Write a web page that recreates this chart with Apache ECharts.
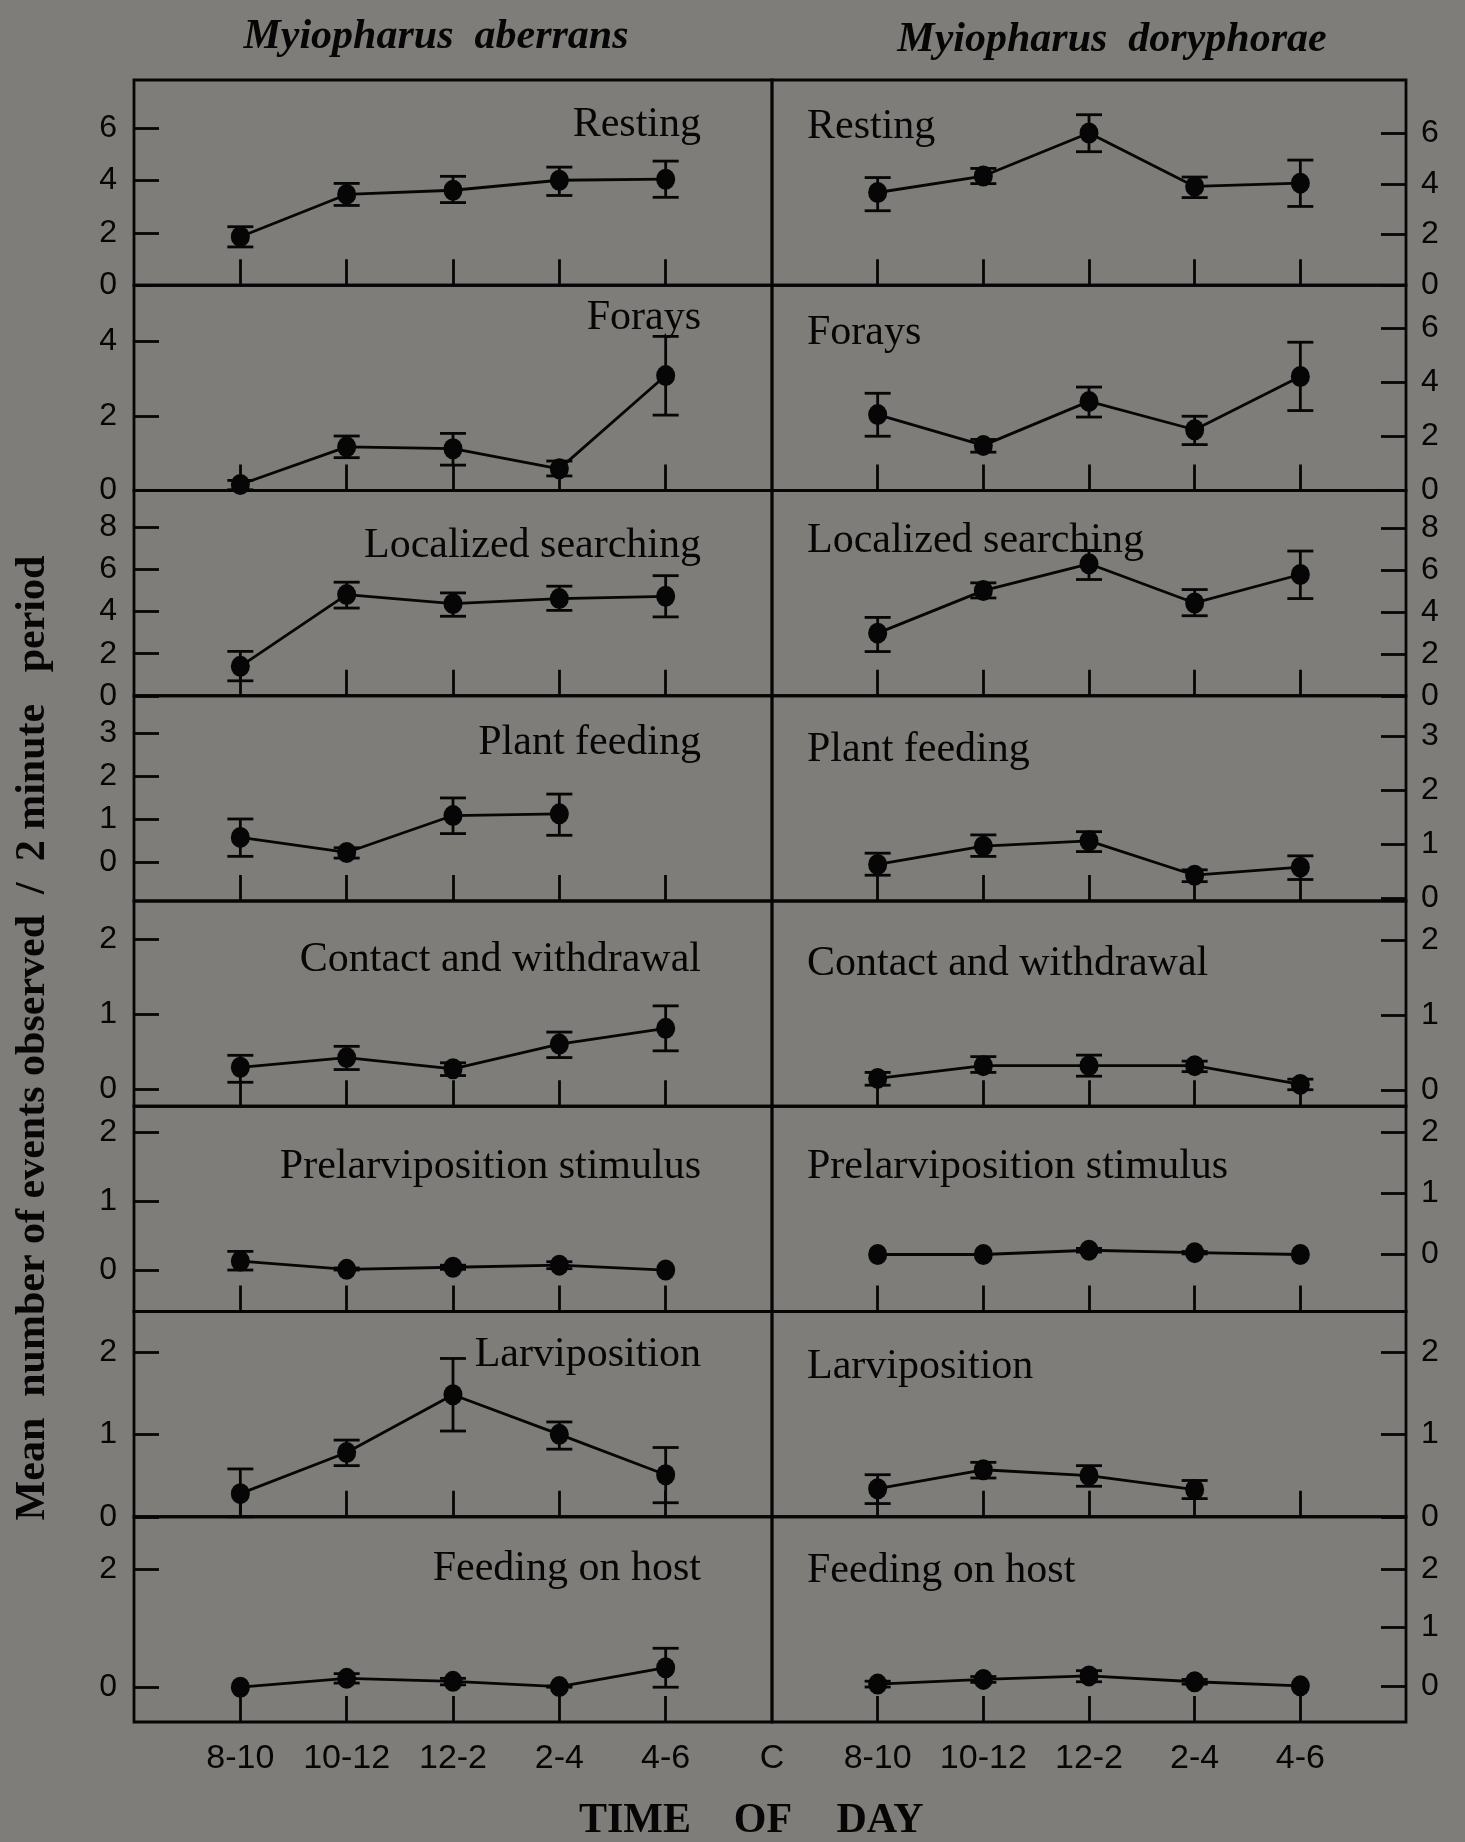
<!DOCTYPE html>
<html>
<head>
<meta charset="utf-8">
<script src="https://cdn.jsdelivr.net/npm/echarts@6/dist/echarts.min.js"></script>
<style>
html,body{margin:0;padding:0;background:#7f7d79;}
#c{width:1465px;height:1842px;}
</style>
</head>
<body>
<div id="c"></div>
<script>
// ---------- DATA ----------
const timeLabels = ['8-10', '10-12', '12-2', '2-4', '4-6'];
const controlLabel = 'C';
const speciesNames = ['Myiopharus  aberrans', 'Myiopharus  doryphorae'];
const behaviours = ['Resting', 'Forays', 'Localized searching', 'Plant feeding',
  'Contact and withdrawal', 'Prelarviposition stimulus', 'Larviposition', 'Feeding on host'];
const yTitle = 'Mean  number of events observed  /  2 minute   period';
const xTitleWords = ['TIME', 'OF', 'DAY'];

// Myiopharus aberrans (rows = behaviours, columns = time periods)
const aberransMean = [
  [1.85, 3.46, 3.62, 4.00, 4.04],
  [0.16, 1.17, 1.12, 0.58, 3.08],
  [1.40, 4.81, 4.38, 4.62, 4.73],
  [0.57, 0.22, 1.08, 1.12, null],
  [0.29, 0.42, 0.27, 0.60, 0.81],
  [0.13, 0.01, 0.04, 0.07, 0.00],
  [0.28, 0.78, 1.48, 1.00, 0.51],
  [0.00, 0.15, 0.10, 0.01, 0.33]
];
const aberransLow = [
  [1.46, 3.04, 3.15, 3.42, 3.35],
  [0.02, 0.88, 0.68, 0.39, 2.02],
  [0.71, 4.17, 3.78, 4.06, 3.75],
  [0.13, 0.09, 0.66, 0.62, null],
  [0.09, 0.26, 0.18, 0.42, 0.51],
  [0.00, 0.00, 0.01, 0.02, 0.00],
  [0.00, 0.62, 1.04, 0.82, 0.17],
  [0.00, 0.07, 0.04, 0.00, 0.00]
];
const aberransHigh = [
  [2.23, 3.88, 4.15, 4.50, 4.73],
  [0.27, 1.46, 1.53, 0.79, 4.13],
  [2.11, 5.40, 4.89, 5.21, 5.71],
  [1.00, 0.33, 1.49, 1.58, null],
  [0.45, 0.57, 0.35, 0.76, 1.11],
  [0.27, 0.03, 0.07, 0.12, 0.00],
  [0.58, 0.93, 1.92, 1.15, 0.84],
  [0.00, 0.23, 0.15, 0.02, 0.66]
];

// Myiopharus doryphorae
const doryphoraeMean = [
  [3.66, 4.31, 6.01, 3.90, 4.03],
  [2.81, 1.67, 3.30, 2.25, 4.22],
  [2.99, 5.02, 6.30, 4.43, 5.79],
  [0.62, 0.96, 1.06, 0.42, 0.57],
  [0.16, 0.33, 0.33, 0.33, 0.08],
  [0.00, 0.00, 0.07, 0.03, 0.00],
  [0.34, 0.57, 0.50, 0.33, null],
  [0.03, 0.11, 0.17, 0.07, 0.00]
];
const doryphoraeLow = [
  [2.94, 4.01, 5.27, 3.46, 3.11],
  [2.01, 1.42, 2.72, 1.70, 2.96],
  [2.11, 4.67, 5.55, 3.82, 4.64],
  [0.42, 0.77, 0.86, 0.30, 0.34],
  [0.07, 0.24, 0.19, 0.25, 0.01],
  [0.00, 0.00, 0.04, 0.01, 0.00],
  [0.16, 0.47, 0.37, 0.22, null],
  [-0.02, 0.06, 0.07, 0.03, 0.00]
];
const doryphoraeHigh = [
  [4.25, 4.61, 6.73, 4.27, 4.94],
  [3.60, 1.89, 3.83, 2.75, 5.49],
  [3.74, 5.39, 6.94, 5.07, 6.91],
  [0.83, 1.17, 1.23, 0.52, 0.78],
  [0.24, 0.45, 0.47, 0.39, 0.15],
  [0.00, 0.00, 0.10, 0.05, 0.00],
  [0.51, 0.66, 0.62, 0.44, null],
  [0.08, 0.16, 0.26, 0.11, 0.00]
];

// y-axis tick labels per panel
const leftYTicks = [[0,2,4,6],[0,2,4],[0,2,4,6,8],[0,1,2,3],[0,1,2],[0,1,2],[0,1,2],[0,2]];
const rightYTicks = [[0,2,4,6],[0,2,4,6],[0,2,4,6,8],[0,1,2,3],[0,1,2],[0,1,2],[0,1,2],[0,1,2]];
// y-axis extents per panel
const leftYRange = [[0,7.82],[0,5.5],[0,9.76],[-0.91,3.87],[-0.23,2.51],[-0.6,2.37],[0,2.49],[-0.59,2.89]];
const rightYRange = [[0,8.1],[0,7.6],[0,9.8],[-0.06,3.76],[-0.21,2.52],[-0.93,2.42],[0,2.49],[-0.62,2.9]];

// ---------- LAYOUT ----------
const frameLeft = 134, frameMid = 772, frameRight = 1406, frameTop = 80, frameBottom = 1722;
const rowH = (frameBottom - frameTop) / 8;
const SANS = "'Liberation Sans', Arial, sans-serif";
const SERIF = "'Liberation Serif', 'Times New Roman', serif";
const INK = '#060606';
const LW = 2.8;

const leftLabelCY = [125, 318, 546, 743, 960, 1167, 1355, 1569];
const rightLabelCY = [127, 333, 541, 750, 964, 1167, 1367, 1571];

function errRender(params, api) {
  const x = api.value(0), lo = api.value(1), hi = api.value(2);
  if (hi - lo < 1e-6) return null;
  const a = api.coord([x, lo]), b = api.coord([x, hi]);
  const hw = 13;
  const st = { stroke: INK, lineWidth: LW };
  return {
    type: 'group',
    children: [
      { type: 'line', shape: { x1: a[0], y1: a[1], x2: b[0], y2: b[1] }, style: st },
      { type: 'line', shape: { x1: a[0] - hw, y1: a[1], x2: a[0] + hw, y2: a[1] }, style: st },
      { type: 'line', shape: { x1: b[0] - hw, y1: b[1], x2: b[0] + hw, y2: b[1] }, style: st }
    ]
  };
}

const grids = [], xAxes = [], yAxes = [], series = [], graphics = [];
for (let r = 0; r < 8; r++) {
  for (let s = 0; s < 2; s++) {
    const idx = grids.length;
    const left = s === 0 ? frameLeft : frameMid;
    const width = s === 0 ? frameMid - frameLeft : frameRight - frameMid;
    grids.push({
      left: left, top: frameTop + r * rowH, width: width, height: rowH,
      show: true, borderColor: INK, borderWidth: LW, backgroundColor: 'transparent',
      containLabel: false, outerBoundsMode: 'none'
    });
    const xOff = s === 0 ? 0 : 6;
    const xmin = s === 0 ? -1 : 5;
    const tickVals = timeLabels.map((t, i) => xOff + i);
    const labelVals = s === 0 ? tickVals.concat([5]) : tickVals;
    xAxes.push({
      type: 'value', gridIndex: idx, min: xmin, max: xmin + 6, interval: 1, position: 'bottom',
      axisLine: { show: false, onZero: false }, splitLine: { show: false },
      axisTick: { show: true, inside: true, length: 26, customValues: tickVals, lineStyle: { color: INK, width: LW } },
      axisLabel: {
        show: r === 7, customValues: labelVals, margin: 20,
        fontSize: 34, fontFamily: SANS, color: INK,
        formatter: function (v) {
          if (v === 5) return controlLabel;
          const i = v - xOff;
          return (i >= 0 && i < timeLabels.length) ? timeLabels[i] : '';
        }
      }
    });
    const range = s === 0 ? leftYRange[r] : rightYRange[r];
    const yt = s === 0 ? leftYTicks[r] : rightYTicks[r];
    yAxes.push({
      type: 'value', gridIndex: idx, position: s === 0 ? 'left' : 'right',
      min: range[0], max: range[1],
      axisLine: { show: false, onZero: false }, splitLine: { show: false },
      axisTick: { show: true, inside: true, length: 25, customValues: yt, lineStyle: { color: INK, width: LW } },
      axisLabel: { customValues: yt, margin: s === 0 ? 17 : 15, fontSize: 32, fontFamily: SANS, color: INK }
    });
    const mean = s === 0 ? aberransMean[r] : doryphoraeMean[r];
    const low = s === 0 ? aberransLow[r] : doryphoraeLow[r];
    const high = s === 0 ? aberransHigh[r] : doryphoraeHigh[r];
    const pts = [], errs = [];
    mean.forEach((v, i) => {
      if (v === null) return;
      pts.push([xOff + i, v]);
      errs.push([xOff + i, low[i], high[i]]);
    });
    series.push({
      type: 'custom', coordinateSystem: 'cartesian2d', xAxisIndex: idx, yAxisIndex: idx,
      data: errs, renderItem: errRender, silent: true, z: 2, encode: { x: 0, y: [1, 2] }
    });
    series.push({
      type: 'line', xAxisIndex: idx, yAxisIndex: idx, data: pts,
      symbol: 'circle', symbolSize: [19, 21], showAllSymbol: true,
      itemStyle: { color: INK, borderWidth: 0 }, lineStyle: { color: INK, width: LW },
      silent: true, z: 3
    });
    // panel label
    graphics.push({
      type: 'text', silent: true,
      x: s === 0 ? 701 : 807, y: s === 0 ? leftLabelCY[r] : rightLabelCY[r],
      style: {
        text: behaviours[r], fill: INK, font: '42px ' + SERIF,
        align: s === 0 ? 'right' : 'left', verticalAlign: 'middle'
      }
    });
  }
}

// species titles
graphics.push({ type: 'text', silent: true, x: 436, y: 37,
  style: { text: speciesNames[0], fill: INK, font: 'italic bold 42px ' + SERIF, align: 'center', verticalAlign: 'middle' } });
graphics.push({ type: 'text', silent: true, x: 1112, y: 40,
  style: { text: speciesNames[1], fill: INK, font: 'italic bold 42px ' + SERIF, align: 'center', verticalAlign: 'middle' } });
// y title
graphics.push({ type: 'text', silent: true, x: 33, y: 1038, rotation: Math.PI / 2,
  style: { text: yTitle, fill: INK, font: 'bold 42px ' + SERIF, align: 'center', verticalAlign: 'middle' } });
// x title
const xTitleCX = [635, 763, 880];
xTitleWords.forEach((w, i) => {
  graphics.push({ type: 'text', silent: true, x: xTitleCX[i], y: 1821,
    style: { text: w, fill: INK, font: 'bold 42px ' + SERIF, align: 'center', verticalAlign: 'middle' } });
});

const chart = echarts.init(document.getElementById('c'), null, { renderer: 'canvas', width: 1465, height: 1842 });
chart.setOption({
  backgroundColor: '#7f7d79',
  animation: false,
  grid: grids,
  xAxis: xAxes,
  yAxis: yAxes,
  series: series,
  graphic: graphics
});
</script>
</body>
</html>
